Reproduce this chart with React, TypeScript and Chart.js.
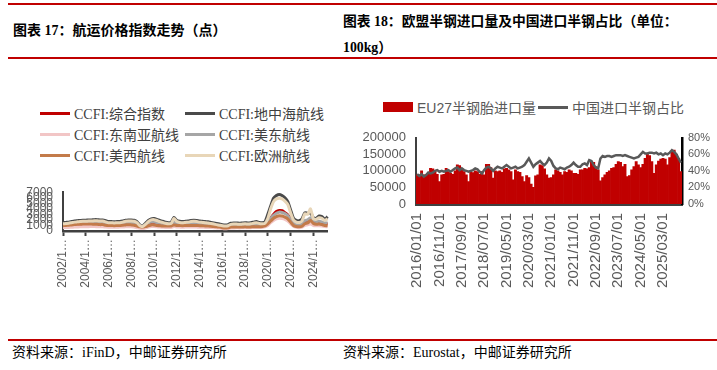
import React, { useEffect, useRef } from 'react';
import { Chart, registerables } from 'chart.js';

Chart.register(...registerables);

// ---------- Left chart: CCFI indices (quarterly samples, 2002Q1 - 2025Q2) ----------
const quarterLabels: string[] = [];
for (let i = 0; i < 94; i++) {
  const y = 2002 + Math.floor(i / 4);
  const m = (i % 4) * 3 + 1;
  quarterLabels.push(`${y}/${m}/1`);
}

const ccfiComposite = [
  1000, 1050, 1100, 1150, 1200, 1250,
  1250, 1300, 1300, 1300, 1300, 1300, 1300, 1250, 1250,
  1150, 1100,
  1100, 1050, 1100, 1100,
  1150, 1200, 1250, 1200, 1150,
  1000, 900, 850, 950,
  1100, 1250, 1250, 1150,
  1100, 1050, 1000, 1000,
  1000, 1300, 1150,
  1100, 1050, 1100, 1100,
  1100, 1100, 1100, 1050,
  1050, 1000, 1000, 950, 900, 850, 800,
  700, 650, 700,
  800, 800, 800, 800, 820, 850, 820, 830, 880, 850, 850, 900, 1000,
  1500, 2300, 3000, 3500, 3700, 3650, 3300, 2900, 2100, 1400, 1000, 950, 1100, 1600, 1700, 2100, 1600, 1500, 1500, 1450, 1300, 1250,
];
const ccfiMed = [
  1500, 1550, 1600, 1700, 1800, 1850,
  1900, 1950, 1950, 2000, 2000, 2050, 2050, 2000, 2000,
  1850, 1700,
  1700, 1650, 1700, 1700,
  1800, 1950, 2000, 2000, 1950,
  1700, 1100, 950, 1400,
  1900, 2200, 2250, 2100,
  1900, 1750, 1600, 1500,
  1550, 2450, 1900,
  1750, 1700, 1750, 1800,
  1900, 1950, 1900, 1800,
  1750, 1700, 1650, 1550, 1450, 1350, 1250,
  1150, 1100, 1150,
  1400, 1450, 1450, 1400, 1450, 1500, 1450, 1500, 1600, 1700, 1550, 1500, 1650,
  3000, 4500, 5900, 6400, 6600, 6400, 6000, 5300, 3800, 2300, 1900, 1850, 2200, 3300, 3200, 3300, 2400, 2300, 2700, 2600, 2100, 2600,
];
const ccfiSEA = [
  600, 620, 650, 680, 700, 720,
  750, 750, 780, 780, 800, 800, 780, 760, 750,
  700, 680,
  680, 660, 680, 700,
  720, 750, 780, 760, 720,
  600, 480, 450, 550,
  700, 800, 800, 750,
  700, 680, 650, 650,
  650, 800, 720,
  700, 680, 700, 700,
  720, 720, 700, 680,
  680, 650, 650, 620, 600, 560, 520,
  450, 420, 450,
  550, 560, 570, 560, 580, 600, 580, 600, 640, 620, 620, 650, 750,
  1000, 1500, 1900, 2200, 2300, 2250, 2100, 1800, 1300, 850, 650, 600, 700, 1000, 1100, 1300, 1000, 950, 950, 900, 800, 750,
];
const ccfiUSEast = [
  1150, 1200, 1250, 1300, 1350, 1400,
  1450, 1500, 1500, 1550, 1550, 1550, 1550, 1500, 1500,
  1400, 1300,
  1300, 1250, 1300, 1300,
  1350, 1450, 1500, 1450, 1400,
  1200, 1000, 900, 1100,
  1400, 1600, 1600, 1500,
  1400, 1300, 1250, 1200,
  1200, 1600, 1400,
  1300, 1300, 1350, 1350,
  1400, 1400, 1350, 1300,
  1300, 1250, 1200, 1150, 1100, 1000, 950,
  850, 800, 850,
  1000, 1050, 1050, 1000, 1050, 1100, 1050, 1100, 1200, 1150, 1100, 1150, 1250,
  1700, 2300, 2800, 3200, 3400, 3350, 3150, 2800, 2000, 1400, 1150, 1100, 1250, 1900, 2000, 2400, 1800, 1700, 1750, 1650, 1500, 1450,
];
const ccfiUSWest = [
  950, 1000, 1050, 1100, 1150, 1200,
  1200, 1250, 1250, 1250, 1250, 1200, 1200, 1150, 1150,
  1050, 1000,
  1000, 950, 1000, 1000,
  1050, 1100, 1150, 1100, 1050,
  900, 750, 700, 800,
  950, 1100, 1100, 1000,
  950, 900, 900, 900,
  900, 1100, 1000,
  1000, 950, 1000, 1000,
  1000, 1000, 1000, 950,
  950, 900, 900, 850, 800, 750, 700,
  600, 550, 600,
  700, 700, 700, 700, 720, 750, 720, 730, 780, 750, 750, 800, 900,
  1300, 1800, 2300, 2600, 2750, 2700, 2500, 2200, 1600, 1000, 800, 750, 850, 1300, 1450, 1900, 1350, 1200, 1250, 1150, 1000, 950,
];
const ccfiEurope = [
  1300, 1350, 1400, 1500, 1600, 1650,
  1700, 1750, 1750, 1800, 1800, 1850, 1850, 1800, 1800,
  1650, 1500,
  1500, 1450, 1500, 1500,
  1600, 1750, 1800, 1800, 1750,
  1500, 950, 800, 1200,
  1700, 2000, 2050, 1900,
  1700, 1550, 1400, 1300,
  1350, 2250, 1700,
  1550, 1500, 1550, 1600,
  1700, 1750, 1700, 1600,
  1550, 1500, 1450, 1350, 1250, 1150, 1050,
  950, 900, 950,
  1200, 1250, 1250, 1200, 1250, 1300, 1250, 1300, 1400, 1500, 1350, 1300, 1400,
  2300, 4000, 5300, 5800, 5900, 5800, 5400, 4800, 3300, 2000, 1600, 1550, 1800, 3100, 3000, 4000, 2200, 2100, 2400, 2300, 1900, 2200,
];

const leftSeries = [
  { label: 'CCFI:综合指数', data: ccfiComposite, color: '#C00000', order: 6 },
  { label: 'CCFI:地中海航线', data: ccfiMed, color: '#4A4A4A', order: 5 },
  { label: 'CCFI:东南亚航线', data: ccfiSEA, color: '#F2C6C6', order: 4 },
  { label: 'CCFI:美东航线', data: ccfiUSEast, color: '#A6A6A6', order: 3 },
  { label: 'CCFI:美西航线', data: ccfiUSWest, color: '#C37B4A', order: 2 },
  { label: 'CCFI:欧洲航线', data: ccfiEurope, color: '#E8D6B8', order: 1 },
];

// ---------- Right chart: EU27 semi-steel tire imports (monthly, 2016/01 - 2025/11) ----------
const monthLabels: string[] = [];
for (let i = 0; i < 119; i++) {
  const y = 2016 + Math.floor(i / 12);
  const m = (i % 12) + 1;
  monthLabels.push(`${y}/${m < 10 ? '0' + m : m}/01`);
}

const euImports = [
  88000, 85000, 100000, 88000, 88000, 93000, 108000, 106000, 100000, 90000,
  68000, 88000, 90000, 108000, 98000, 93000, 90000, 100000, 118000, 116000,
  106000, 98000, 88000, 68000, 98000, 95000, 100000, 98000, 90000, 98000,
  88000, 120000, 120000, 110000, 78000, 100000, 98000, 100000, 96000, 106000,
  108000, 103000, 98000, 73000, 103000, 98000, 96000, 83000, 68000, 86000,
  80000, 60000, 50000, 85000, 88000, 118000, 116000, 106000, 88000, 78000,
  80000, 88000, 103000, 100000, 96000, 88000, 98000, 96000, 103000, 100000,
  93000, 93000, 90000, 103000, 103000, 108000, 106000, 110000, 128000, 126000,
  113000, 103000, 70000, 80000, 88000, 96000, 100000, 108000, 110000, 120000,
  128000, 126000, 113000, 120000, 83000, 86000, 103000, 113000, 128000, 118000,
  110000, 120000, 138000, 153000, 146000, 128000, 93000, 118000, 130000, 136000,
  138000, 136000, 118000, 140000, 158000, 163000, 150000, 138000, 98000,
];
const chinaShare = [
  36, 34, 36, 33, 35, 38, 37, 38, 40, 41,
  39, 40, 39, 40, 41, 39, 41, 43, 44, 41,
  43, 41, 40, 39, 40, 41, 43, 42, 39, 37,
  41, 44, 45, 43, 40, 43, 45, 44, 43, 45,
  47, 45, 43, 44, 45, 43, 44, 45, 47, 51,
  55, 50, 45, 48, 50, 52, 49, 47, 50, 55,
  52, 46, 43, 42, 44, 43, 42, 44, 45, 47,
  50, 47, 45, 45, 48, 49, 47, 53, 52, 47,
  44, 43, 55, 58, 57, 58, 58, 57, 58, 59,
  59, 59, 58, 59, 58, 57, 56, 55, 56, 57,
  60, 63, 61, 61, 62, 62, 61, 62, 60, 61,
  59, 61, 60, 62, 65, 63, 60, 55, 50,
];

const SERIF = '"Liberation Serif", "Noto Sans CJK SC", serif';
const SANS = '"Liberation Sans", "Noto Sans CJK SC", sans-serif';
const RED = '#C00000';

function LeftChart() {
  const ref = useRef<HTMLCanvasElement>(null);
  useEffect(() => {
    const chart = new Chart(ref.current as HTMLCanvasElement, {
      type: 'line',
      data: {
        labels: quarterLabels,
        datasets: leftSeries.map((s) => ({
          label: s.label,
          data: s.data,
          borderColor: s.color,
          backgroundColor: s.color,
          borderWidth: 3,
          pointRadius: 0,
          tension: 0.2,
          order: s.order,
        })),
      },
      options: {
        animation: false,
        responsive: false,
        layout: { padding: { top: 8, right: 17, left: 0, bottom: 0 } },
        plugins: { legend: { display: false }, tooltip: { enabled: false } },
        scales: {
          x: {
            grid: {
              display: true,
              drawOnChartArea: false,
              drawTicks: true,
              tickLength: 5,
              tickWidth: 2,
              tickColor: (c: any) => (c.index % 8 === 0 ? '#404040' : 'rgba(0,0,0,0)'),
              color: 'rgba(0,0,0,0)',
            },
            border: { display: true, color: '#404040', width: 2.5 },
            ticks: {
              autoSkip: false,
              minRotation: 90,
              maxRotation: 90,
              padding: 3,
              color: '#595959',
              font: { family: SANS, size: 12 },
              callback: (_v: any, i: number) => (i % 8 === 0 ? quarterLabels[i].slice(0, 6) + '…' : ''),
            },
            afterFit: (s: any) => {
              s.height = 69;
            },
          },
          y: {
            min: 0,
            max: 7000,
            grid: { display: false, drawTicks: false },
            border: { display: true, color: '#404040', width: 2 },
            ticks: {
              stepSize: 1000,
              autoSkip: false,
              padding: 10,
              color: '#595959',
              font: { family: SANS, size: 12 },
              callback: (v: any) => String(v),
            },
            afterFit: (s: any) => {
              s.width = 63;
            },
          },
        },
      },
    } as any);
    return () => chart.destroy();
  }, []);
  return (
    <canvas
      ref={ref}
      width={345}
      height={125}
      style={{ position: 'absolute', left: 0, top: 175, width: 345, height: 125 }}
    />
  );
}

function RightChart() {
  const ref = useRef<HTMLCanvasElement>(null);
  useEffect(() => {
    const chart = new Chart(ref.current as HTMLCanvasElement, {
      type: 'bar',
      data: {
        labels: monthLabels,
        datasets: [
          {
            type: 'bar',
            label: 'EU27半钢胎进口量',
            data: euImports,
            backgroundColor: RED,
            borderWidth: 0,
            barPercentage: 1,
            categoryPercentage: 1,
            yAxisID: 'y',
            order: 1,
          },
          {
            type: 'line',
            label: '中国进口半钢占比',
            data: chinaShare,
            borderColor: '#595959',
            backgroundColor: '#595959',
            borderWidth: 2.5,
            pointRadius: 0,
            tension: 0,
            yAxisID: 'y1',
            order: 0,
          },
        ],
      },
      options: {
        animation: false,
        responsive: false,
        layout: { padding: { top: 16, left: 0, right: 0, bottom: 0 } },
        plugins: { legend: { display: false }, tooltip: { enabled: false } },
        scales: {
          x: {
            grid: { display: false, drawTicks: false },
            border: { display: true, color: '#404040', width: 3 },
            ticks: {
              autoSkip: false,
              minRotation: 90,
              maxRotation: 90,
              padding: 9,
              color: '#595959',
              font: { family: SANS, size: 15 },
              callback: (_v: any, i: number) => (i % 10 === 0 ? monthLabels[i] : ''),
            },
            afterFit: (s: any) => {
              s.height = 91;
            },
          },
          y: {
            position: 'left',
            min: 0,
            max: 200000,
            grid: { display: false, drawTicks: false },
            border: { display: true, color: '#404040', width: 2 },
            ticks: {
              stepSize: 50000,
              autoSkip: false,
              padding: 10,
              color: '#595959',
              font: { family: SANS, size: 13 },
              callback: (v: any) => String(v),
            },
            afterFit: (s: any) => {
              s.width = 71;
            },
          },
          y1: {
            position: 'right',
            min: 0,
            max: 80,
            grid: { display: false, drawTicks: false },
            border: { display: true, color: '#000000', width: 2.5 },
            ticks: {
              stepSize: 20,
              autoSkip: false,
              padding: 6,
              color: '#595959',
              font: { family: SANS, size: 11 },
              callback: (v: any) => v + '%',
            },
            afterFit: (s: any) => {
              s.width = 35;
            },
          },
        },
      },
    } as any);
    return () => chart.destroy();
  }, []);
  return (
    <canvas
      ref={ref}
      width={372}
      height={175}
      style={{ position: 'absolute', left: 345, top: 120, width: 372, height: 175 }}
    />
  );
}

const abs = (s: React.CSSProperties): React.CSSProperties => ({ position: 'absolute', ...s });

export default function App() {
  const legendRows = [
    [leftSeries[0], leftSeries[1]],
    [leftSeries[2], leftSeries[3]],
    [leftSeries[4], leftSeries[5]],
  ];
  return (
    <div
      style={{
        position: 'absolute',
        left: 0,
        top: 0,
        width: 717,
        height: 370,
        background: '#fff',
        overflow: 'hidden',
      }}
    >
      {/* red rules */}
      <div style={abs({ left: 8, top: 3, width: 709, height: 2, background: RED })} />
      <div style={abs({ left: 8, top: 57, width: 709, height: 2, background: RED })} />
      <div style={abs({ left: 8, top: 339, width: 709, height: 2, background: RED })} />

      {/* titles */}
      <div
        style={abs({
          left: 13,
          top: 22,
          fontFamily: SERIF,
          fontWeight: 'bold',
          fontSize: 14,
          lineHeight: '18px',
          whiteSpace: 'nowrap',
          color: '#000',
        })}
      >
        图表 17：航运价格指数走势（点）
      </div>
      <div
        style={abs({
          left: 343,
          top: 9,
          fontFamily: SERIF,
          fontWeight: 'bold',
          fontSize: 13.8,
          lineHeight: '26px',
          whiteSpace: 'nowrap',
          color: '#000',
        })}
      >
        图表 18：欧盟半钢进口量及中国进口半钢占比（单位：
        <br />
        100kg）
      </div>

      {/* left legend */}
      {legendRows.map((row, r) =>
        row.map((item, c) => (
          <div
            key={item.label}
            style={abs({ left: c === 0 ? 40 : 185, top: 103 + r * 21, height: 20, display: 'flex', alignItems: 'center' })}
          >
            <div style={{ width: 30, height: 3, background: item.color, marginRight: 4 }} />
            <span style={{ fontFamily: SERIF, fontSize: 14, color: '#404040', whiteSpace: 'nowrap' }}>{item.label}</span>
          </div>
        ))
      )}

      {/* right legend */}
      <div style={abs({ left: 383, top: 97, height: 20, display: 'flex', alignItems: 'center' })}>
        <div style={{ width: 30, height: 10, background: RED, marginRight: 4 }} />
        <span style={{ fontFamily: SANS, fontSize: 14, color: '#595959', whiteSpace: 'nowrap' }}>EU27半钢胎进口量</span>
      </div>
      <div style={abs({ left: 538, top: 97, height: 20, display: 'flex', alignItems: 'center' })}>
        <div style={{ width: 30, height: 3, background: '#595959', marginRight: 4 }} />
        <span style={{ fontFamily: SANS, fontSize: 14, color: '#595959', whiteSpace: 'nowrap' }}>中国进口半钢占比</span>
      </div>

      <LeftChart />
      <RightChart />

      {/* footers */}
      <div style={abs({ left: 12, top: 344, fontFamily: SERIF, fontSize: 14, lineHeight: '18px', color: '#000', whiteSpace: 'nowrap' })}>
        资料来源：iFinD，中邮证券研究所
      </div>
      <div style={abs({ left: 343, top: 344, fontFamily: SERIF, fontSize: 14, lineHeight: '18px', color: '#000', whiteSpace: 'nowrap' })}>
        资料来源：Eurostat，中邮证券研究所
      </div>
    </div>
  );
}
